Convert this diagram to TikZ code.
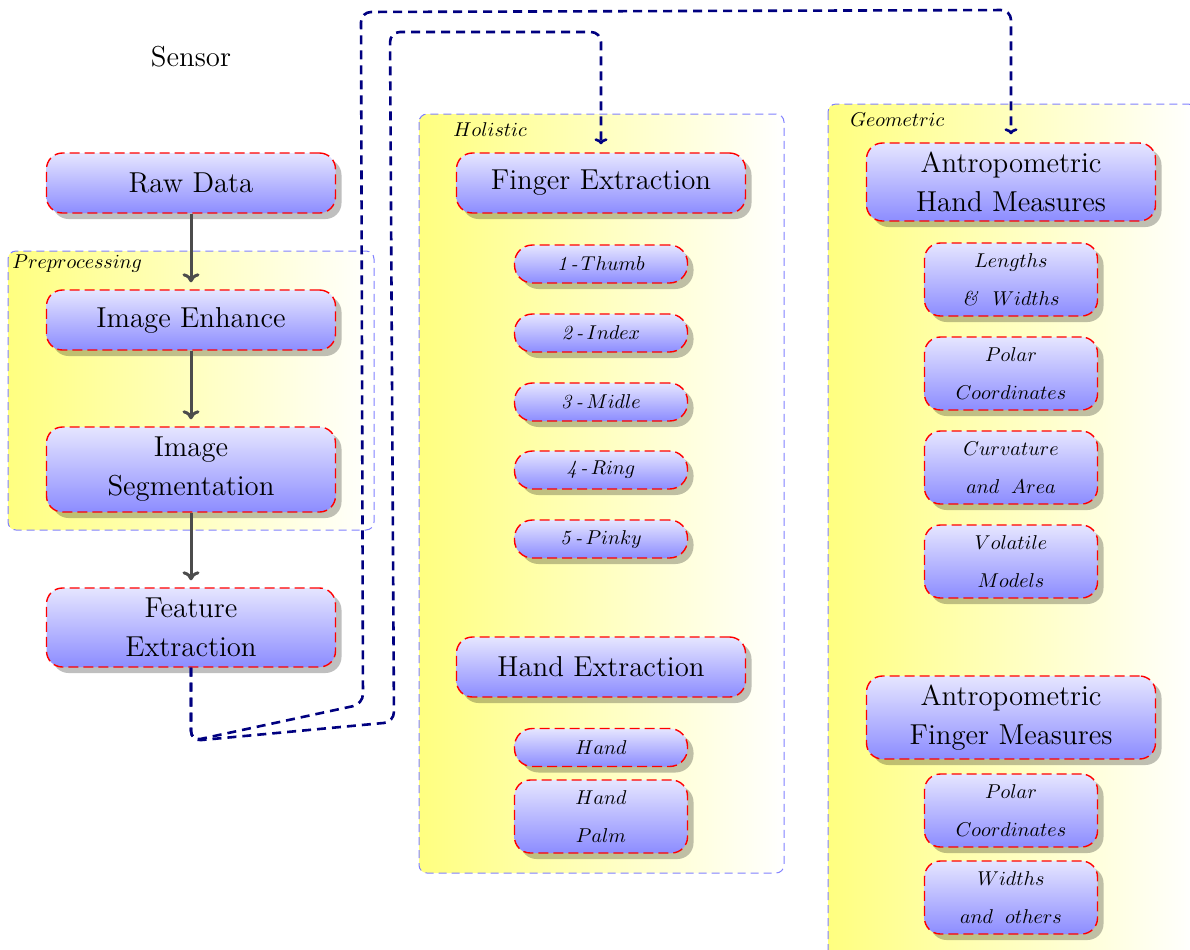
\documentclass[tikz,border=0pt]{standalone}
\usetikzlibrary{shadows,arrows.meta,calc}
\definecolor{navyc}{RGB}{0,0,128}
\tikzset{
  big/.style={draw=red, dash pattern=on 5pt off 2.5pt, line width=0.7pt,
    rounded corners=8pt, top color=blue!10, bottom color=blue!45,
    drop shadow={shadow xshift=3pt, shadow yshift=-3pt, fill=black, opacity=0.25},
    minimum width=144.5pt, minimum height=30pt, align=center, font=\Large},
  small/.style={big, font=\normalsize, minimum width=86.5pt, minimum height=19pt, rounded corners=9pt},
  smalltwo/.style={small, minimum height=36.5pt, rounded corners=8pt},
  grp/.style={draw=blue!50, dash pattern=on 4pt off 2.5pt, line width=0.5pt,
    rounded corners=4pt, left color=yellow!50, right color=white},
  grplabel/.style={anchor=west, inner sep=1pt, font=\normalsize},
  flow/.style={-{To[length=4.5pt,width=8.5pt]}, line width=1.5pt, draw=black!70, shorten >=3.5pt},
  link/.style={-{To[length=3pt,width=6.5pt]}, draw=navyc, line width=1.3pt,
    dash pattern=on 4.5pt off 3pt, rounded corners=5pt, shorten >=4pt},
}
\begin{document}
\begin{tikzpicture}[x=0.5pt,y=-0.5pt]
\useasboundingbox (0,0) rectangle (1190,949);
\clip (0,0) rectangle (1190,949);

% groups
\path[grp] (8,251) rectangle (374,530);
\path[grp] (419,114) rectangle (784,873);
\path[grp] (828,104) rectangle (1196,960);
\node[grplabel] (lpre) at (10,264) {$Preprocessing$};
\node[grplabel] (lhol) at (451,130) {$Holistic$};
\node[grplabel] (lgeo) at (848,120) {$Geometric$};

% sensor column
\node[font=\Large] (sensor) at (191,57) {Sensor};
\node[big] (RD) at (191,183) {Raw Data};
\node[big] (IE) at (191,320) {Image Enhance};
\node[big, minimum height=42.5pt] (IS) at (191,469.5) {Image\\[1.5pt]Segmentation};
\node[big, minimum height=39.5pt] (FE) at (191,627.5) {Feature\\[1.5pt]Extraction};

% holistic column
\node[big] (FX) at (601,183) {Finger Extraction};
\node[small] (T1) at (601,264) {\textit{1}\,\textit{-}\,$Thumb$};
\node[small] (T2) at (601,333) {\textit{2}\,\textit{-}\,$Index$};
\node[small] (T3) at (601,402) {\textit{3}\,\textit{-}\,$Midle$};
\node[small] (T4) at (601,470) {\textit{4}\,\textit{-}\,$Ring$};
\node[small] (T5) at (601,539) {\textit{5}\,\textit{-}\,$Pinky$};
\node[big] (HX) at (601,667) {Hand Extraction};
\node[small] (HA) at (601,747.5) {$Hand$};
\node[smalltwo] (HP) at (601,816.5) {$Hand$\\[7pt]$Palm$};

% geometric column
\node[big, minimum height=39pt] (HM) at (1011,182) {Antropometric\\[1.5pt]Hand Measures};
\node[smalltwo] (LW) at (1011,279.5) {$Lengths$\\[7pt]\textit{\&}\hspace{7pt}$Widths$};
\node[smalltwo] (PC) at (1011,373.5) {$Polar$\\[7pt]$Coordinates$};
\node[smalltwo] (CA) at (1011,467.5) {$Curvature$\\[7pt]$and$\hspace{6pt}$Area$};
\node[smalltwo] (VM) at (1011,561.5) {$Volatile$\\[7pt]$Models$};
\node[big, minimum height=41.5pt] (FM) at (1011,717.5) {Antropometric\\[1.5pt]Finger Measures};
\node[smalltwo] (PC2) at (1011,810.5) {$Polar$\\[7pt]$Coordinates$};
\node[smalltwo] (WO) at (1011,897.5) {$Widths$\\[7pt]$and$\hspace{6pt}$others$};

% flow arrows
\draw[flow] (RD.south) -- (IE.north);
\draw[flow] (IE.south) -- (IS.north);
\draw[flow] (IS.south) -- (FE.north);

% links
\draw[link] (FE.south) -- (191,741) -- (394,722) -- (390,32) -- (601,32) -- (FX.north);
\draw[link] (FE.south) -- (191,741) -- (363,704) -- (361,12) -- (1011,10) -- (HM.north);
\end{tikzpicture}
\end{document}
